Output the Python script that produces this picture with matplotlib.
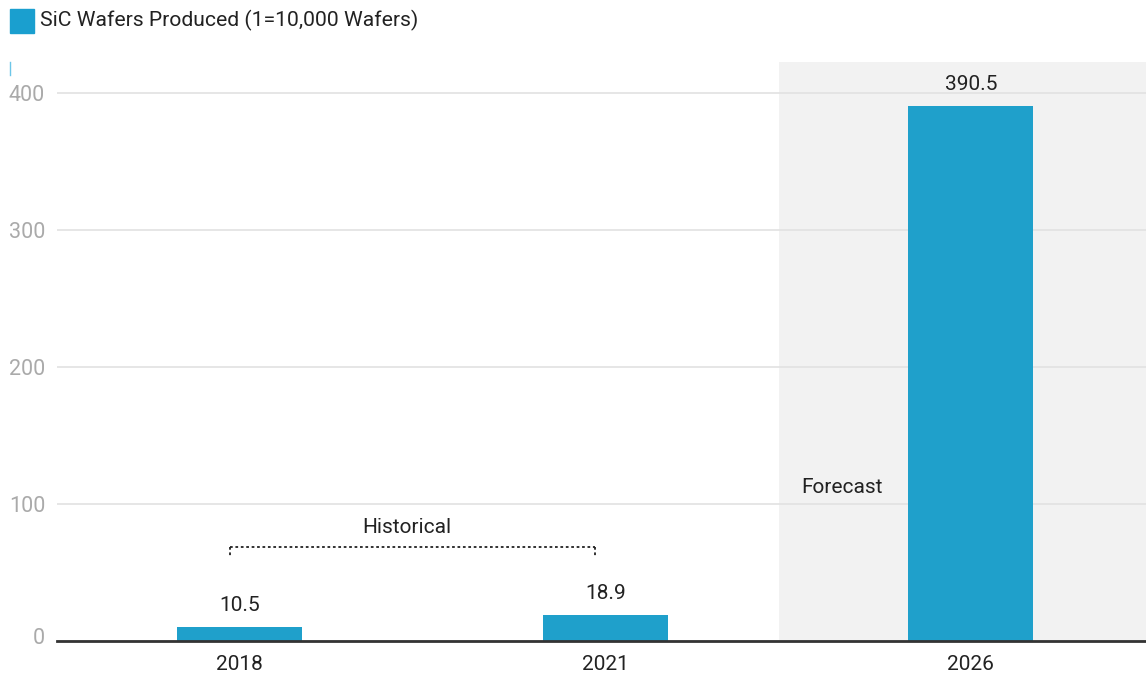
import matplotlib.pyplot as plt
import matplotlib.transforms as mtransforms
from matplotlib.patches import Rectangle
from matplotlib.lines import Line2D

plt.rcParams['font.family'] = ["Roboto", "DejaVu Sans"]

years = ["2018", "2021", "2026"]
wafers = [10.5, 18.9, 390.5]
yticks = [0, 100, 200, 300, 400]
legend_label = "SiC Wafers Produced (1=10,000 Wafers)"

bar_color = "#1fa0cb"
text_color = "#222222"

fig = plt.figure(figsize=(11.46, 6.75), dpi=100)
ax = fig.add_axes([0.0497, 0.0504, 0.9503, 0.8578])

x = list(range(len(years)))

# forecast shading
ax.axvspan(1.475, 2.5, color="#f2f2f2", zorder=0, lw=0)

ax.bar(x, wafers, width=0.342, color=bar_color, zorder=2)

for xi, v in zip(x, wafers):
    ax.annotate(f"{v}", (xi, v), xytext=(0, 15.5), textcoords="offset points",
                ha="center", va="center", fontsize=15, color=text_color)

ax.set_xlim(-0.5, 2.479)
ax.set_ylim(0, 422.6)
ax.set_xticks(x)
ax.set_xticklabels(years, fontsize=15, color=text_color)
ax.set_yticks(yticks)
ax.set_yticklabels([str(t) for t in yticks], fontsize=15.5, color="#aaaaaa")
ax.tick_params(axis="both", length=0)
ax.tick_params(axis="y", pad=8.5)
ax.tick_params(axis="x", pad=10)

# nudge the "0" label up off the baseline
zero_lbl = ax.get_yticklabels()[0]
zero_lbl.set_transform(zero_lbl.get_transform() +
                       mtransforms.ScaledTranslation(0, 5 / 100, fig.dpi_scale_trans))

ax.grid(axis="y", color="#e2e2e2", lw=1.2)
ax.set_axisbelow(True)
for s in ["top", "right", "left"]:
    ax.spines[s].set_visible(False)
ax.spines["bottom"].set_color("#333333")
ax.spines["bottom"].set_linewidth(2)
ax.spines["bottom"].set_zorder(3)

# historical bracket
bx0, bx1, by, bdrop = -0.027, 0.971, 68.6, 61.3
ax.plot([bx0, bx1], [by, by], ls=(0, (1.5, 1.5)), color=text_color, lw=1.3, zorder=3)
ax.plot([bx0, bx0], [by, bdrop], ls=(0, (1.5, 1.5)), color=text_color, lw=1.3, zorder=3)
ax.plot([bx1, bx1], [by, bdrop], ls=(0, (1.5, 1.5)), color=text_color, lw=1.3, zorder=3)
ax.text(0.457, 82.5, "Historical", ha="center", va="center",
        fontsize=15, color=text_color)

ax.text(1.535, 111.7, "Forecast", ha="left", va="center", fontsize=15, color=text_color)

# legend at top-left
fig.patches.append(Rectangle((10 / 1146, 1 - 33 / 675), 24 / 1146, 24 / 675,
                             transform=fig.transFigure, color="#1a9fcf"))
fig.text(40 / 1146, 1 - 20 / 675, legend_label, ha="left", va="center",
         fontsize=15.2, color=text_color)
fig.lines.append(Line2D([10 / 1146, 10 / 1146], [1 - 62 / 675, 1 - 75 / 675],
                        transform=fig.transFigure, color="#6cc6e8", lw=1))

fig.savefig("out.png", dpi=100)
